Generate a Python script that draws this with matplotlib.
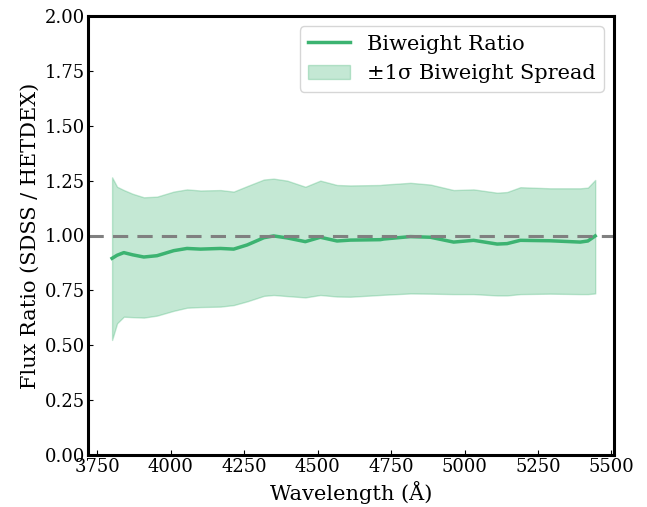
import matplotlib
matplotlib.use('Agg')
import matplotlib.pyplot as plt
import numpy as np

plt.rcParams['font.family'] = 'DejaVu Serif'

wave = [3800, 3817, 3840, 3870, 3908, 3953, 4010, 4055, 4101, 4169, 4214,
        4260, 4317, 4350, 4396, 4458, 4509, 4566, 4611, 4713, 4725, 4816,
        4884, 4963, 5031, 5111, 5145, 5190, 5292, 5394, 5420, 5445]
ratio = [0.896, 0.910, 0.922, 0.912, 0.902, 0.908, 0.931, 0.941, 0.938,
         0.941, 0.938, 0.957, 0.990, 0.998, 0.989, 0.972, 0.992, 0.975,
         0.979, 0.981, 0.984, 0.995, 0.992, 0.970, 0.978, 0.961, 0.963,
         0.978, 0.976, 0.970, 0.975, 0.998]
upper = [1.265, 1.222, 1.207, 1.190, 1.174, 1.177, 1.200, 1.210, 1.205,
         1.207, 1.200, 1.225, 1.255, 1.259, 1.250, 1.222, 1.250, 1.230,
         1.228, 1.230, 1.232, 1.240, 1.232, 1.207, 1.210, 1.195, 1.198,
         1.220, 1.215, 1.215, 1.218, 1.253]
lower = [0.524, 0.600, 0.630, 0.628, 0.626, 0.635, 0.657, 0.671, 0.674,
         0.676, 0.683, 0.700, 0.725, 0.729, 0.724, 0.718, 0.729, 0.722,
         0.721, 0.729, 0.730, 0.736, 0.735, 0.733, 0.733, 0.727, 0.727,
         0.733, 0.735, 0.733, 0.733, 0.736]

green = '#3cb371'

fig = plt.figure(figsize=(6.47, 5.07), dpi=100)
ax = fig.add_axes([88 / 647, 52 / 507, 526 / 647, 439 / 507])

ax.plot(wave, ratio, color=green, lw=2.5, label='Biweight Ratio')
ax.fill_between(wave, lower, upper, color=green, alpha=0.3,
                label='±1σ Biweight Spread')
ax.axhline(1.0, color='gray', ls='--', lw=2.2, dashes=(5, 3))

ax.set_xlim(3718, 5509)
ax.set_ylim(0, 2)
ax.set_yticks(np.arange(0, 2.01, 0.25))
ax.set_xticks(np.arange(3750, 5501, 250))
ax.tick_params(direction='in', labelsize=13, pad=2)
for s in ax.spines.values():
  s.set_linewidth(2.2)

ax.set_xlabel('Wavelength (Å)', fontsize=15)
ax.set_ylabel('Flux Ratio (SDSS / HETDEX)', fontsize=15)
ax.legend(loc='upper right', fontsize=15)

fig.savefig('out.png', dpi=100)
